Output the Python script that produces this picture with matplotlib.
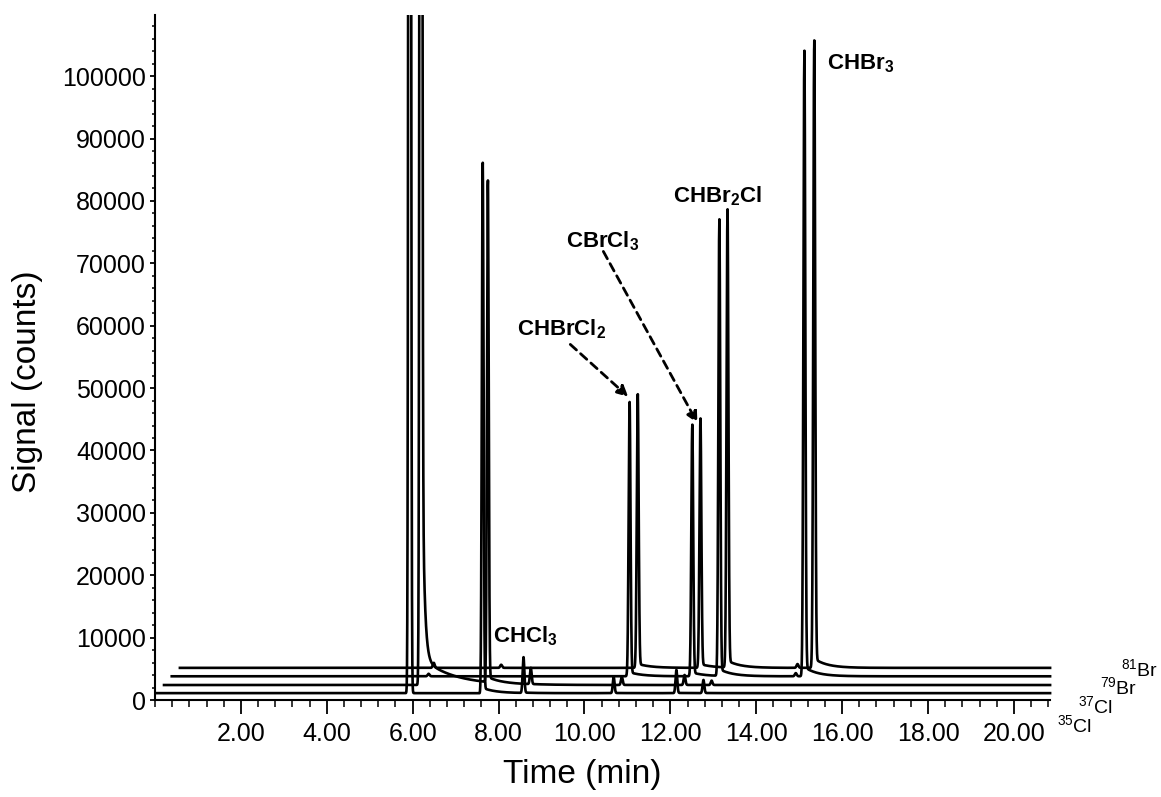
import numpy as np
import matplotlib.pyplot as plt
from matplotlib.ticker import MultipleLocator, FormatStrFormatter
from matplotlib.patches import Rectangle

plt.rcParams['font.family'] = ['Liberation Sans', 'DejaVu Sans']
plt.rcParams['mathtext.fontset'] = 'custom'
plt.rcParams['mathtext.rm'] = 'Liberation Sans'
plt.rcParams['mathtext.it'] = 'Liberation Sans:italic'
plt.rcParams['mathtext.bf'] = 'Liberation Sans:bold'

# isotope traces: label, time shift (min), baseline (counts)
traces = ['35Cl', '37Cl', '79Br', '81Br']
shift = [0.0, 0.19, 0.37, 0.56]
base = [1100, 2400, 3800, 5150]

# peaks per trace: retention time (own time axis, min) and height above baseline
rt_35cl = [5.90, 5.93, 7.60, 7.63, 8.58, 10.68, 12.14, 12.77]
h_35cl = [-1100, 600000, -1100, 84900, 5700, 2600, 3700, 2100]
rt_37cl = [6.00, 7.56, 8.56, 10.68, 12.14, 12.77]
h_37cl = [600000, 80000, 2600, 1300, 1600, 700]
rt_79br = [6.00, 10.68, 12.14, 12.77, 14.55, 14.75]
h_79br = [400, 43500, 39900, 72400, 500, 99200]
rt_81br = [5.93, 7.50, 10.68, 12.14, 12.77, 14.40, 14.79]
h_81br = [800, 500, 43400, 39550, 72650, 600, 99500]

# solvent tailing on the 37Cl trace
solvent_rt = 6.00
solvent_tail = [65000, 4500]
solvent_tau = [0.05, 0.7]

peaks = {'35Cl': (rt_35cl, h_35cl), '37Cl': (rt_37cl, h_37cl),
         '79Br': (rt_79br, h_79br), '81Br': (rt_81br, h_81br)}

t = np.arange(0.02, 20.96, 0.002)


def signal(rts, hs, tail_frac, tail_tau, sigma=0.02):
    y = np.zeros_like(t)
    for r, h in zip(rts, hs):
        y += h * np.exp(-0.5 * ((t - r) / sigma) ** 2)
        if 0 < h < 200000:
            after = t > r
            y[after] += tail_frac * h * np.exp(-(t[after] - r) / tail_tau)
    return y


fig = plt.figure(figsize=(11.61, 7.97), dpi=100)
ax = fig.add_axes([155 / 1161, 97 / 797, 895 / 1161, 685 / 797])

clip = Rectangle((0, -0.05), 1.25, 1.05, transform=ax.transAxes)
for name, dx, b in zip(traces, shift, base):
    rts, hs = peaks[name]
    if 'Br' in name:
        y = signal(rts, hs, 0.015, 0.3, sigma=0.022)
    else:
        y = signal(rts, hs, 0.01, 0.3)
    if name == '37Cl':
        after = t > solvent_rt
        for a, tau in zip(solvent_tail, solvent_tau):
            y[after] += a * np.exp(-(t[after] - solvent_rt) / tau)
    line, = ax.plot(t + dx, y + b, color='black', lw=1.9)
    line.set_clip_path(clip)

ax.set_xlim(0.0, 20.84)
ax.set_ylim(0, 109800)
ax.set_xticks(np.arange(2, 21, 2))
ax.xaxis.set_major_formatter(FormatStrFormatter('%.2f'))
ax.xaxis.set_minor_locator(MultipleLocator(0.4))
ax.yaxis.set_major_locator(MultipleLocator(10000))
ax.yaxis.set_minor_locator(MultipleLocator(2000))

for s in ['top', 'right']:
    ax.spines[s].set_visible(False)
for s in ['left', 'bottom']:
    ax.spines[s].set_linewidth(1.5)

ax.tick_params(axis='x', which='major', direction='out', length=10, width=1.3,
               labelsize=18, pad=6)
ax.tick_params(axis='x', which='minor', direction='out', length=5, width=1.1)
ax.tick_params(axis='y', which='major', direction='out', length=3.5, width=1.3,
               labelsize=18, pad=3)
ax.tick_params(axis='y', which='minor', direction='out', length=2, width=1.1)

fig.text(28 / 1161, 1 - 382 / 797, 'Signal (counts)', rotation=90,
         ha='center', va='center', fontsize=24)
fig.text(582 / 1161, 1 - 775 / 797, 'Time (min)', ha='center', va='center',
         fontsize=24)

# compound labels
lab_kw = dict(fontsize=16, fontweight='bold', va='baseline', ha='left')
ax.text(7.88, 9200, r'CHCl$_\mathbf{3}$', **lab_kw)
ax.text(8.44, 58500, r'CHBrCl$_\mathbf{2}$', **lab_kw)
ax.text(9.56, 72600, r'CBrCl$_\mathbf{3}$', **lab_kw)
ax.text(12.07, 79700, r'CHBr$_\mathbf{2}$Cl', **lab_kw)
ax.text(15.65, 101100, r'CHBr$_\mathbf{3}$', **lab_kw)

arrow_kw = dict(arrowstyle='-|>', color='black', lw=2, linestyle=(0, (3, 2)),
                mutation_scale=16, shrinkA=0, shrinkB=0)
ax.annotate('', xy=(11.02, 48600), xytext=(9.67, 57000), arrowprops=arrow_kw)
ax.annotate('', xy=(12.63, 44400), xytext=(10.44, 71900), arrowprops=arrow_kw)

# isotope labels at the trace ends
iso = [r'$^{35}$Cl', r'$^{37}$Cl', r'$^{79}$Br', r'$^{81}$Br']
iso_x = [21.0, 21.49, 22.0, 22.49]
iso_y = [-5150, -2090, 970, 3860]
for lab, x, y in zip(iso, iso_x, iso_y):
    ax.text(x, y, lab, fontsize=14, ha='left', va='baseline', clip_on=False)

fig.savefig('out.png', dpi=100)
